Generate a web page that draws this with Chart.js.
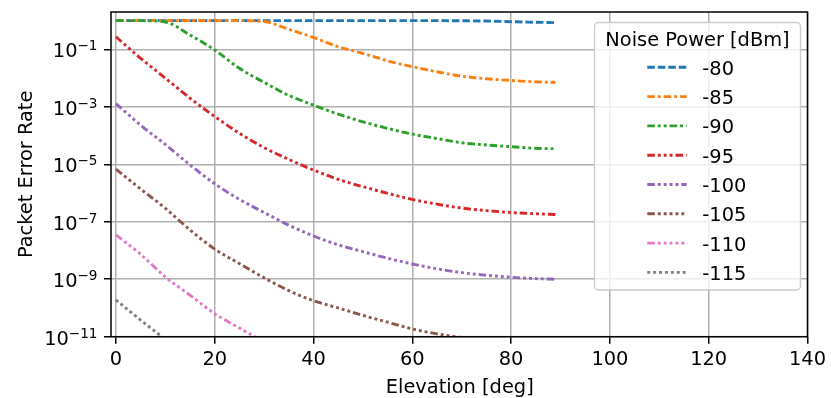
<!DOCTYPE html>
<html>
<head>
<meta charset="utf-8">
<script src="https://cdn.jsdelivr.net/npm/chart.js@4"></script>
<style>
  html, body { margin: 0; padding: 0; background: #fff; }
  #wrap { width: 831px; height: 398px; }
</style>
</head>
<body>
<div id="wrap"><canvas id="c" width="831" height="398"></canvas></div>
<script>
// Elevation samples [deg] shared by every curve
const elevation = [0, 5, 10, 15, 20, 25, 30, 35, 40, 45, 50, 55, 60, 65, 70, 75, 80, 85, 89];

// Noise power levels [dBm], one curve each
const noisePower = ['-80', '-85', '-90', '-95', '-100', '-105', '-110', '-115'];

// Packet error rate per noise level (curves end once they leave the plotted range)
const per_m80  = [1, 1, 1, 1, 1, 1, 1, 1, 1, 1, 1, 1, 1, 1, 0.99, 0.97, 0.92, 0.88, 0.85];
const per_m85  = [1, 1, 1, 1, 1, 1, 0.93, 0.50, 0.26, 0.123, 0.072, 0.040, 0.025, 0.0166, 0.0117, 0.0095, 0.0083, 0.0074, 0.0071];
const per_m90  = [1, 1, 0.90, 0.316, 0.095, 0.0219, 0.0071, 0.0025, 0.00115, 5.6e-4, 3.0e-4, 1.78e-4, 1.12e-4, 7.9e-5, 5.6e-5, 4.7e-5, 4.1e-5, 3.6e-5, 3.5e-5];
const per_m95  = [0.275, 0.049, 0.010, 2.0e-3, 4.6e-4, 1.2e-4, 3.8e-5, 1.48e-5, 6.3e-6, 3.0e-6, 1.66e-6, 9.8e-7, 6.0e-7, 4.1e-7, 3.0e-7, 2.45e-7, 2.1e-7, 1.9e-7, 1.8e-7];
const per_m100 = [1.3e-3, 2.3e-4, 4.9e-5, 9.5e-6, 2.1e-6, 6.0e-7, 2.1e-7, 7.6e-8, 3.2e-8, 1.58e-8, 9.1e-9, 5.4e-9, 3.4e-9, 2.3e-9, 1.7e-9, 1.38e-9, 1.17e-9, 1.05e-9, 1.0e-9];
const per_m105 = [6.8e-6, 1.38e-6, 2.95e-7, 5.2e-8, 1.12e-8, 3.5e-9, 1.12e-9, 4.0e-10, 1.78e-10, 1.0e-10, 5.5e-11, 3.2e-11, 1.86e-11, 1.26e-11, 9.3e-12, 7.6e-12];
const per_m110 = [3.5e-8, 7.4e-9, 1.2e-9, 2.8e-10, 6.3e-11, 2.0e-11, 6.5e-12];
const per_m115 = [1.9e-10, 3.8e-11, 8e-12];

// Axis ticks
const xTicks = [0, 20, 40, 60, 80, 100, 120, 140];
const yTickExponents = [-11, -9, -7, -5, -3, -1];

// Styling
const FONT = '"DejaVu Sans", "Liberation Sans", sans-serif';
const FS = 19.4;
const colors = ['#1f77b4', '#ff7f0e', '#2ca02c', '#d62728', '#9467bd', '#8c564b', '#e377c2', '#7f7f7f'];
const D = 7.5, G = 3, P = 2.9;
const dashes = [
  [D, G],
  [D, G, P, G],
  [D, G, P, G, P, G],
  [D, G, P, G, P, G, P, G],
  [D, G, P, G, P, G, P, G, P, G],
  [D, G, P, G, P, G, P, G, P, G, P, G],
  [D, G, P, G, P, G, P, G, P, G, P, G, P, G],
  [P, G]
];
const LW = 2.9;

const series = [per_m80, per_m85, per_m90, per_m95, per_m100, per_m105, per_m110, per_m115];

const datasets = series.map((vals, i) => ({
  label: noisePower[i],
  data: vals.map((v, k) => ({ x: elevation[k], y: v })),
  borderColor: colors[i],
  backgroundColor: colors[i],
  borderWidth: LW,
  borderDash: dashes[i],
  borderCapStyle: 'butt',
  borderJoinStyle: 'round',
  pointRadius: 0,
  pointHoverRadius: 0,
  cubicInterpolationMode: 'monotone',
  fill: false,
  clip: 0,
  order: series.length - i
}));

const decor = {
  id: 'decor',
  afterDatasetsDraw(chart) {
    const { ctx, chartArea: a } = chart;
    ctx.save();
    ctx.strokeStyle = '#000';
    ctx.lineWidth = 1.5;
    ctx.setLineDash([]);
    ctx.strokeRect(a.left, a.top, a.right - a.left, a.bottom - a.top);
    ctx.restore();
  },
  afterDraw(chart) {
    const { ctx, chartArea: a, scales } = chart;
    const ys = scales.y;
    ctx.save();
    ctx.fillStyle = '#000';

    // y tick labels as 10 with a raised exponent
    const right = a.left - 7 - 6.5;
    yTickExponents.forEach(e => {
      const py = ys.getPixelForValue(Math.pow(10, e));
      const sup = '\u2212' + String(Math.abs(e));
      ctx.font = (FS * 0.7).toFixed(2) + 'px ' + FONT;
      const ws = ctx.measureText(sup).width;
      ctx.textAlign = 'left';
      ctx.textBaseline = 'alphabetic';
      ctx.fillText(sup, right - ws, py + 1);
      ctx.font = FS + 'px ' + FONT;
      ctx.textAlign = 'right';
      ctx.fillText('10', right - ws, py + 8);
    });

    // axis titles
    ctx.font = FS + 'px ' + FONT;
    ctx.textAlign = 'center';
    ctx.textBaseline = 'alphabetic';
    ctx.fillText('Elevation [deg]', (a.left + a.right) / 2 + 0.5, 393);
    ctx.save();
    ctx.translate(31.5, (a.top + a.bottom) / 2);
    ctx.rotate(-Math.PI / 2);
    ctx.fillText('Packet Error Rate', 0, 0);
    ctx.restore();

    // legend
    const L = { left: 594.5, top: 22.5, right: 800.5, bottom: 290 };
    ctx.beginPath();
    ctx.roundRect(L.left, L.top, L.right - L.left, L.bottom - L.top, 4);
    ctx.fillStyle = 'rgba(255,255,255,0.8)';
    ctx.fill();
    ctx.strokeStyle = '#cccccc';
    ctx.lineWidth = 1.4;
    ctx.stroke();

    ctx.fillStyle = '#000';
    ctx.font = FS + 'px ' + FONT;
    ctx.textAlign = 'center';
    ctx.fillText('Noise Power [dBm]', (L.left + L.right) / 2, 45.7);

    ctx.textAlign = 'left';
    chart.data.datasets.forEach((ds, i) => {
      const yRow = 67.3 + i * 29.3;
      ctx.beginPath();
      ctx.setLineDash(ds.borderDash);
      ctx.lineDashOffset = 0;
      ctx.lineCap = 'butt';
      ctx.strokeStyle = ds.borderColor;
      ctx.lineWidth = LW;
      ctx.moveTo(647.3, yRow);
      ctx.lineTo(686.7, yRow);
      ctx.stroke();
      ctx.setLineDash([]);
      ctx.fillStyle = '#000';
      ctx.fillText(ds.label, 702.3, yRow + 7.5);
    });
    ctx.restore();
  }
};

new Chart(document.getElementById('c'), {
  type: 'line',
  data: { datasets },
  options: {
    responsive: false,
    animation: false,
    devicePixelRatio: 1,
    layout: { padding: { left: 0, right: 21, top: 12, bottom: 0 } },
    plugins: { legend: { display: false }, tooltip: { enabled: false } },
    events: [],
    scales: {
      x: {
        type: 'linear',
        min: -1,
        max: 140,
        afterBuildTicks: s => { s.ticks = xTicks.map(v => ({ value: v })); },
        afterFit: s => { s.height = 61.3; },
        border: { display: false },
        grid: { color: '#b0b0b0', lineWidth: 1.5, tickColor: '#000', tickWidth: 1.5, tickLength: 7, drawTicks: true },
        ticks: {
          autoSkip: false, maxRotation: 0, padding: 5,
          color: '#000', font: { family: FONT, size: FS },
          callback: v => String(v)
        }
      },
      y: {
        type: 'logarithmic',
        min: 1e-11,
        max: 2,
        afterBuildTicks: s => { s.ticks = yTickExponents.map(e => ({ value: Math.pow(10, e) })); },
        afterFit: s => { s.width = 111; },
        border: { display: false },
        grid: { color: '#b0b0b0', lineWidth: 1.5, tickColor: '#000', tickWidth: 1.5, tickLength: 7, drawTicks: true },
        ticks: { autoSkip: false, callback: () => '' }
      }
    }
  },
  plugins: [decor]
});
</script>
</body>
</html>
